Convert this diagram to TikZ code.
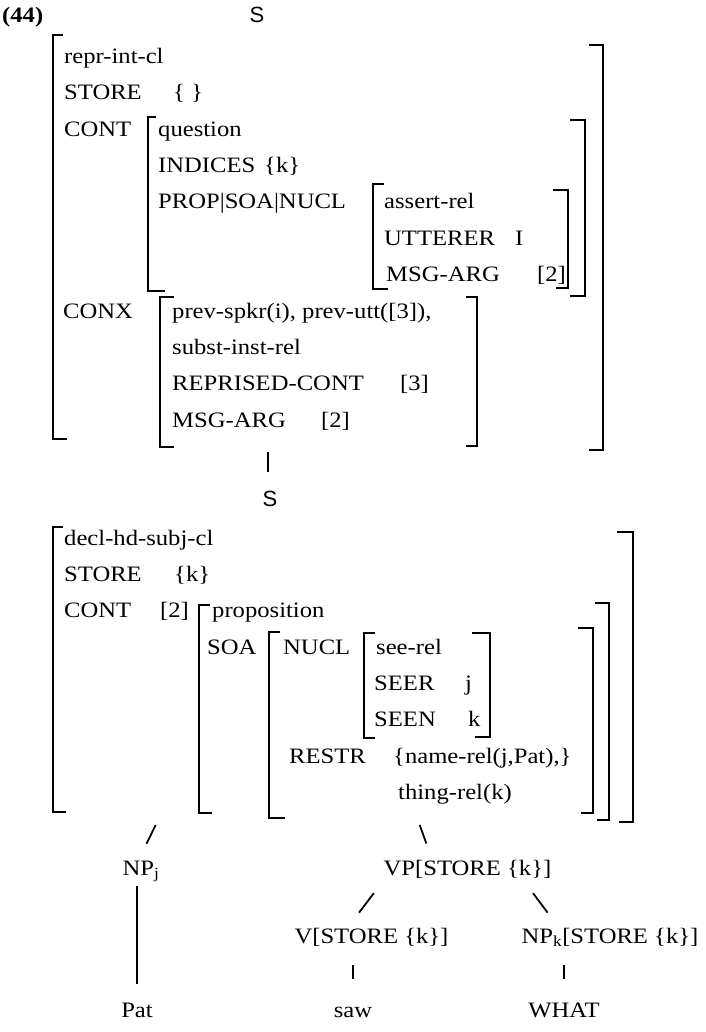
\documentclass[tikz,border=0pt]{standalone}
\usepackage{fontspec}
\setmainfont{Liberation Serif}[FakeStretch=1.12]
\setsansfont{Liberation Sans}

\tikzset{
  lbl/.style={anchor=base west, inner sep=0pt},
  cat/.style={anchor=base, inner sep=0pt, text height=16pt, text depth=5pt},
  sflbl/.style={font=\fontsize{22}{26}\selectfont\sffamily},
  brk/.style={line width=2.4pt},
  edge/.style={line width=1.8pt}
}

\begin{document}
\begin{tikzpicture}[x=1pt, y=-1pt, font=\fontsize{22}{26}\selectfont]
        % \draw[help lines, gray!50, very thin] (0,0) grid[step=50] (705,1032);
        \useasboundingbox (0,0) rectangle (705,1032);

        \node[lbl, font=\fontsize{22}{26}\selectfont\bfseries] (num) at (2,22.5) {(44)};
        \node[cat, sflbl] (s1) at (257,22.5) {S};

        % upper AVM
        \draw[brk] (63,35) -- (53,35) -- (53,439) -- (67,439);
        \draw[brk] (589,45) -- (603,45) -- (603,450) -- (589,450);
        \node[lbl] (reprcl) at (64,63.3) {repr-int-cl};
        \node[lbl] (store1) at (64,99.7) {STORE};
        \node[lbl] (store1v) at (173,99.7) {\{ \}};
        \node[lbl] (cont1) at (64,136.1) {CONT};

        \draw[brk] (156,117) -- (148,117) -- (148,291) -- (165,291);
        \draw[brk] (570,120) -- (585,120) -- (585,296) -- (570,296);
        \node[lbl] (question) at (158,136.1) {question};
        \node[lbl] (indices) at (158,172.5) {INDICES};
        \node[lbl] (indicesv) at (264,172.5) {\{k\}};
        \node[lbl] (psn) at (158,208.9) {PROP|SOA|NUCL};

        \draw[brk] (384,184) -- (373,184) -- (373,289) -- (388,289);
        \draw[brk] (553,190) -- (568,190) -- (568,288) -- (556,288);
        \node[lbl] (assertrel) at (384,208.9) {assert-rel};
        \node[lbl] (utterer) at (384,245.3) {UTTERER};
        \node[lbl] (uttererv) at (515,245.3) {I};
        \node[lbl] (msgarg1) at (386,281.7) {MSG-ARG};
        \node[lbl] (msgarg1v) at (537,281.7) {[2]};

        \node[lbl] (conx) at (63,318.1) {CONX};
        \draw[brk] (174,297) -- (160,297) -- (160,447) -- (174,447);
        \draw[brk] (466,297) -- (477,297) -- (477,446) -- (466,446);
        \node[lbl] (prevspkr) at (172,318.1) {prev-spkr(i), prev-utt([3]),};
        \node[lbl] (substrel) at (172,354.5) {subst-inst-rel};
        \node[lbl] (reprised) at (172,390.9) {REPRISED-CONT};
        \node[lbl] (reprisedv) at (400,390.9) {[3]};
        \node[lbl] (msgarg2) at (172,427.3) {MSG-ARG};
        \node[lbl] (msgarg2v) at (321,427.3) {[2]};

        \coordinate (foot1) at (268,447);
        \node[cat, sflbl] (s2) at (270,506.5) {S};
        \draw[edge, shorten <=5pt, shorten >=18.5pt] (foot1) -- (foot1 |- s2.north);

        % lower AVM
        \draw[brk] (63,527) -- (53,527) -- (53,812) -- (66,812);
        \draw[brk] (617,532) -- (633,532) -- (633,822) -- (619,822);
        \node[lbl] (declcl) at (64,545.3) {decl-hd-subj-cl};
        \node[lbl] (store2) at (64,581.6) {STORE};
        \node[lbl] (store2v) at (174,581.6) {\{k\}};
        \node[lbl] (cont2) at (64,617.9) {CONT};
        \node[lbl] (cont2v) at (160,617.9) {[2]};

        \draw[brk] (210,605) -- (199,605) -- (199,813) -- (212,813);
        \draw[brk] (595,603) -- (609,603) -- (609,820) -- (597,820);
        \node[lbl] (proposition) at (212,617.9) {proposition};
        \node[lbl] (soa) at (207,654.2) {SOA};

        \draw[brk] (280,632) -- (269,632) -- (269,818) -- (285,818);
        \draw[brk] (578,628) -- (593,628) -- (593,813) -- (581,813);
        \node[lbl] (nucl) at (283,654.2) {NUCL};

        \draw[brk] (375,633) -- (364,633) -- (364,738) -- (375,738);
        \draw[brk] (472,633) -- (490,633) -- (490,737) -- (475,737);
        \node[lbl] (seerel) at (376,654.2) {see-rel};
        \node[lbl] (seer) at (374,690.5) {SEER};
        \node[lbl] (seerv) at (465,690.5) {j};
        \node[lbl] (seen) at (374,726.8) {SEEN};
        \node[lbl] (seenv) at (468,726.8) {k};
        \node[lbl] (restr) at (289,763.1) {RESTR};
        \node[lbl] (restrv) at (393,763.1) {\{name-rel(j,Pat),\}};
        \node[lbl] (thingrel) at (398,799.4) {thing-rel(k)};

        % tree below
        \coordinate (footl) at (162,812);
        \coordinate (footr) at (415,812);
        \node[cat] (npj) at (141,875.3) {NP\textsubscript{j}};
        \node[cat] (vp) at (467.5,875.3) {VP[STORE \{k\}]};
        \node[cat] (v) at (371.5,943.3) {V[STORE \{k\}]};
        \node[cat] (npk) at (610,943.3) {NP\textsubscript{k}[STORE \{k\}]};
        \node[cat] (pat) at (137,1017.3) {Pat};
        \node[cat] (saw) at (353,1017.3) {saw};
        \node[cat] (what) at (564,1017.3) {WHAT};

        \draw[edge, shorten <=14.4pt, shorten >=17.2pt] (footl) -- ([xshift=-2pt]npj.north);
        \draw[edge, shorten <=13.8pt, shorten >=16.5pt] (footr) -- ([xshift=-35.5pt]vp.north);
        \draw[edge, shorten <=15.9pt, shorten >=18.2pt] (vp.south west) -- ([xshift=-23.5pt]v.north);
        \draw[edge, shorten <=15.8pt, shorten >=18.1pt] ([xshift=-28pt]vp.south east) -- ([xshift=-51.5pt]npk.north);
        \draw[edge, shorten <=5.5pt, shorten >=17.5pt] (npj.south -| pat.north) -- (pat.north);
        \draw[edge, shorten <=16.5pt, shorten >=22.5pt] (v.south -| saw.north) -- (saw.north);
        \draw[edge, shorten <=16.5pt, shorten >=22.5pt] (npk.south -| what.north) -- (what.north);
      \end{tikzpicture}
\end{document}
